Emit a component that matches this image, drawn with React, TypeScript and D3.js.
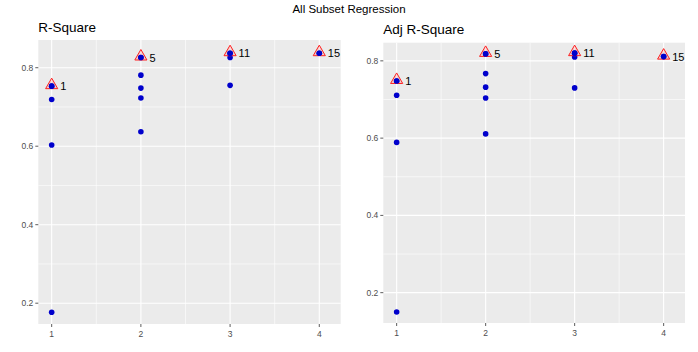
import * as d3 from "d3";

const title = "All Subset Regression";
const panelTitles = ["R-Square", "Adj R-Square"];
const xTicks = [1, 2, 3, 4];
const yTicks = [0.2, 0.4, 0.6, 0.8];

// number of predictors for each fitted subset model
const subsetSize = [1, 1, 1, 1, 2, 2, 2, 2, 2, 3, 3, 3, 4];
const rsq = [0.753, 0.719, 0.603, 0.177, 0.826, 0.781, 0.748, 0.723, 0.637, 0.837, 0.826, 0.755, 0.837];
const adjRsq = [0.748, 0.711, 0.589, 0.150, 0.818, 0.767, 0.732, 0.704, 0.611, 0.820, 0.810, 0.730, 0.811];

// best model per size and its label
const bestSize = [1, 2, 3, 4];
const bestLabel = ["1", "5", "11", "15"];
const bestRsq = [0.753, 0.826, 0.837, 0.837];
const bestAdjRsq = [0.748, 0.818, 0.820, 0.811];

const W = 698;
const H = 352;

type PanelProps = {
  left: number; right: number; top: number; bottom: number;
  yDomain: [number, number];
  name: string;
  values: number[];
  best: number[];
};

function Panel({ left, right, top, bottom, yDomain, name, values, best }: PanelProps) {
  const x = d3.scaleLinear().domain([0.85, 4.24]).range([left, right]);
  const y = d3.scaleLinear().domain(yDomain).range([bottom, top]);
  const minorX = [1.5, 2.5, 3.5];
  const minorY = [0.3, 0.5, 0.7];
  const tri = d3.symbol().type(d3.symbolTriangle).size(64)();
  return (
    <g>
      <text x={left} y={top - 8.5} fontSize={13.5} fill="#000" fontFamily="Liberation Sans, Arial, sans-serif">{name}</text>
      <rect x={left} y={top} width={right - left} height={bottom - top} fill="#ebebeb" />
      {minorX.map((v) => (
        <line key={"mx" + v} x1={x(v)} x2={x(v)} y1={top} y2={bottom} stroke="#fff" strokeWidth={0.6} />
      ))}
      {minorY.map((v) => (
        <line key={"my" + v} x1={left} x2={right} y1={y(v)} y2={y(v)} stroke="#fff" strokeWidth={0.6} />
      ))}
      {xTicks.map((v) => (
        <line key={"gx" + v} x1={x(v)} x2={x(v)} y1={top} y2={bottom} stroke="#fff" strokeWidth={1.1} />
      ))}
      {yTicks.map((v) => (
        <line key={"gy" + v} x1={left} x2={right} y1={y(v)} y2={y(v)} stroke="#fff" strokeWidth={1.1} />
      ))}
      {xTicks.map((v) => (
        <g key={"tx" + v}>
          <line x1={x(v)} x2={x(v)} y1={bottom} y2={bottom + 3} stroke="#333" strokeWidth={0.8} />
          <text x={x(v)} y={bottom + 13} fontSize={8.5} fill="#4d4d4d" textAnchor="middle" fontFamily="Liberation Sans, Arial, sans-serif">{v}</text>
        </g>
      ))}
      {yTicks.map((v) => (
        <g key={"ty" + v}>
          <line x1={left - 3} x2={left} y1={y(v)} y2={y(v)} stroke="#333" strokeWidth={0.8} />
          <text x={left - 5} y={y(v) + 3} fontSize={8.5} fill="#4d4d4d" textAnchor="end" fontFamily="Liberation Sans, Arial, sans-serif">{v.toFixed(1)}</text>
        </g>
      ))}
      {values.map((v, i) => (
        <circle key={"p" + i} cx={x(subsetSize[i])} cy={y(v)} r={2.8} fill="#0000cc" />
      ))}
      {best.map((v, i) => (
        <g key={"b" + i}>
          <path d={tri} transform={`translate(${x(bestSize[i])},${y(v) - 1})`} fill="rgba(255,0,0,0.12)" stroke="#ff2020" strokeWidth={1} />
          <circle cx={x(bestSize[i])} cy={y(v)} r={2.8} fill="#0000cc" />
          <text x={x(bestSize[i]) + 8.5} y={y(v) + 4} fontSize={11} fill="#000" fontFamily="Liberation Sans, Arial, sans-serif">{bestLabel[i]}</text>
        </g>
      ))}
    </g>
  );
}

export default function App() {
  return (
    <svg width={W} height={H} style={{ position: "absolute", left: 0, top: 0, background: "#fff" }}>
      <text x={W / 2} y={13} fontSize={11.5} textAnchor="middle" fill="#000" fontFamily="Liberation Sans, Arial, sans-serif">{title}</text>
      <Panel left={38.3} right={340.7} top={40} bottom={324} yDomain={[0.147, 0.8706]} name={panelTitles[0]} values={rsq} best={bestRsq} />
      <Panel left={383.3} right={685} top={42.7} bottom={323} yDomain={[0.1215, 0.847]} name={panelTitles[1]} values={adjRsq} best={bestAdjRsq} />
    </svg>
  );
}
